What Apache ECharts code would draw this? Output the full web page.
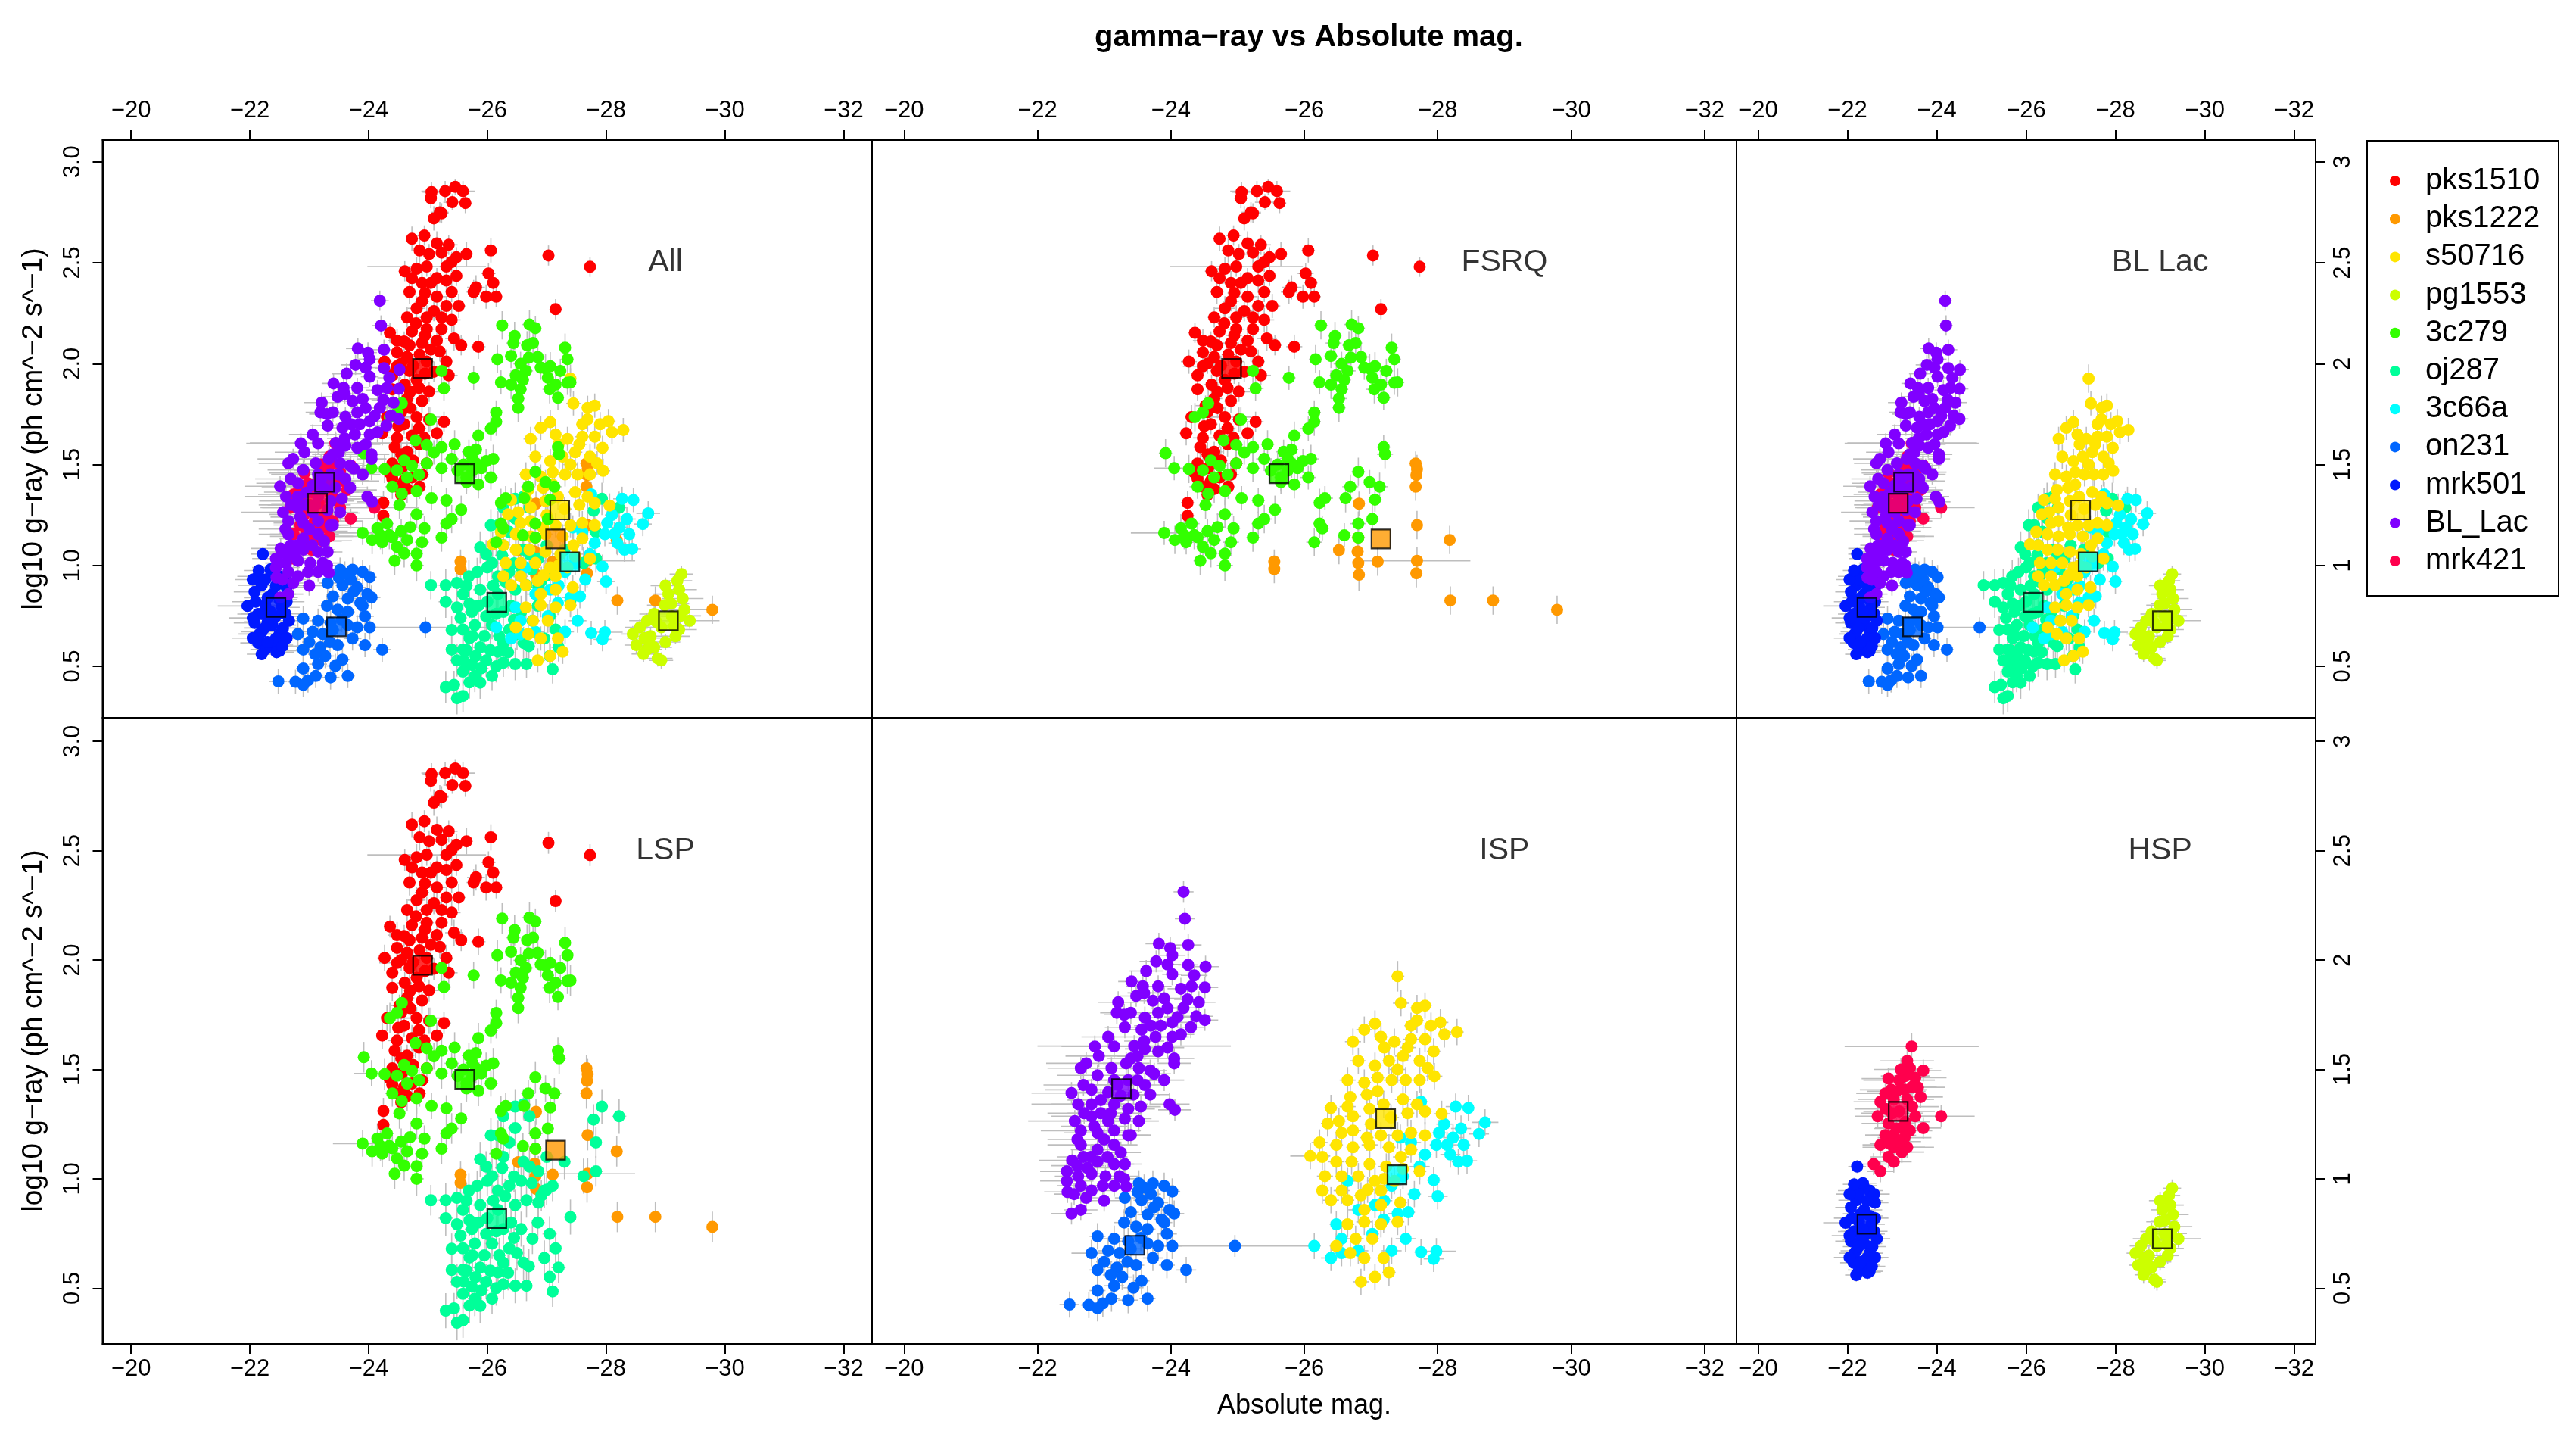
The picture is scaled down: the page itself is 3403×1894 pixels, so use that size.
<!DOCTYPE html>
<html><head><meta charset="utf-8">
<script src="https://cdn.jsdelivr.net/npm/echarts@6/dist/echarts.min.js"></script>
<style>html,body{margin:0;padding:0;background:#fff}#c{width:3403px;height:1894px}</style>
</head><body><div id="c"></div>
<script>
const FONT = "'Liberation Sans', Arial, Helvetica, sans-serif";
// legend order
const sources = ['pks1510','pks1222','s50716','pg1553','3c279','oj287','3c66a','on231','mrk501','BL_Lac','mrk421'];
const colors = {pks1510:'#FF0000',pks1222:'#FF9900',s50716:'#FFE500',pg1553:'#CCFF00','3c279':'#33FF00',oj287:'#00FF99','3c66a':'#00FFFF',on231:'#0066FF',mrk501:'#0019FF',BL_Lac:'#8000FF',mrk421:'#FF004D'};
// points: [absMag, log10 gamma, xErr, yErr]
const pks1510 = [
[-25.06,2.850,0.15,0.05],[-25.29,2.855,0.40,0.05],[-25.46,2.876,0.12,0.04],[-25.59,2.855,0.20,0.05],[-25.63,2.796,0.10,0.05],[-25.41,2.800,0.15,0.04],[-25.05,2.820,0.10,0.05],[-25.23,2.745,0.12,0.05],[-25.10,2.720,0.10,0.06],[-25.20,2.750,0.15,0.05],
[-24.73,2.619,0.10,0.06],[-24.94,2.635,0.12,0.05],[-25.15,2.596,0.10,0.06],[-25.35,2.589,0.15,0.05],[-25.65,2.543,0.10,0.06],[-25.48,2.527,0.12,0.05],[-24.86,2.561,0.10,0.06],[-25.02,2.543,0.15,0.05],[-25.23,2.550,0.10,0.06],[-25.40,2.504,0.12,0.05],[-26.06,2.561,0.10,0.06],
[-24.61,2.458,0.10,0.05],[-24.81,2.470,0.15,0.06],[-24.98,2.481,1.00,0.05],[-25.31,2.481,0.12,0.06],[-24.73,2.424,0.10,0.05],[-24.90,2.400,0.15,0.06],[-25.15,2.424,0.10,0.05],[-25.31,2.412,0.12,0.06],[-25.48,2.435,0.10,0.05],[-25.81,2.378,0.15,0.06],[-26.10,2.400,0.10,0.06],[-26.02,2.447,0.12,0.05],[-25.98,2.332,0.10,0.06],[-26.15,2.332,0.10,0.05],[-25.77,2.355,0.12,0.06],
[-24.69,2.355,0.10,0.06],[-24.90,2.309,0.12,0.05],[-25.15,2.332,0.15,0.06],[-25.40,2.355,0.10,0.05],[-25.52,2.286,0.12,0.06],[-25.31,2.286,0.10,0.05],[-24.81,2.274,0.15,0.06],[-24.65,2.229,0.10,0.05],[-24.98,2.229,0.12,0.06],[-25.23,2.229,0.10,0.05],[-25.40,2.217,0.15,0.06],
[-24.73,2.160,0.10,0.06],[-24.98,2.171,0.12,0.05],[-25.23,2.171,0.10,0.06],[-24.36,2.153,0.10,0.05],[-24.48,2.114,0.15,0.06],[-24.69,2.091,0.10,0.05],[-24.90,2.102,0.12,0.06],[-25.15,2.114,0.10,0.05],[-25.44,2.125,0.15,0.06],[-25.56,2.091,0.10,0.05],[-25.85,2.084,0.12,0.06],
[-24.48,2.056,0.10,0.05],[-24.65,2.033,0.15,0.06],[-24.86,2.045,0.10,0.05],[-24.27,2.010,0.12,0.06],[-24.48,1.987,0.30,0.05],[-24.69,1.964,0.10,0.06],[-24.98,2.010,0.12,0.05],[-25.31,2.010,0.10,0.06],[-25.35,1.942,0.15,0.05],
[-24.40,1.942,0.10,0.06],[-24.61,1.896,0.12,0.05],[-24.81,1.919,0.10,0.06],[-25.02,1.861,0.30,0.05],[-24.40,1.873,0.10,0.06],[-24.65,1.827,0.12,0.05],[-24.90,1.815,0.10,0.06],[-24.52,1.792,0.15,0.05],
[-24.31,1.735,0.10,0.06],[-24.81,1.735,0.40,0.05],[-25.02,1.723,0.10,0.06],[-25.27,1.712,0.12,0.05],[-24.23,1.655,0.10,0.06],[-24.48,1.632,0.15,0.05],[-24.73,1.643,0.10,0.06],[-24.94,1.632,0.12,0.05],[-25.15,1.655,0.10,0.06],
[-24.44,1.586,0.10,0.06],[-24.65,1.563,0.12,0.05],[-24.40,1.505,0.10,0.07],[-24.56,1.482,0.15,0.07],[-24.98,1.505,0.10,0.06],[-24.73,1.436,0.12,0.07],[-24.48,1.390,0.10,0.07],[-24.65,1.379,0.12,0.07],[-24.86,1.390,0.10,0.06],
[-24.25,1.310,0.10,0.06],[-24.25,1.246,0.10,0.06],[-27.03,2.536,0.05,0.05],[-27.73,2.480,0.05,0.05],[-27.15,2.270,0.05,0.05],
[-24.60,1.700,0.10,0.05],[-24.85,1.600,0.12,0.06],[-24.55,1.550,0.10,0.06],[-24.75,1.520,0.10,0.07],[-24.60,1.420,0.10,0.07],[-24.90,1.450,0.12,0.06],[-24.70,1.780,0.10,0.05],[-24.95,1.950,0.10,0.05],[-24.75,1.990,0.12,0.05],[-24.55,2.000,0.10,0.05],[-24.85,1.880,0.10,0.05],[-24.70,1.860,0.10,0.05],[-24.60,2.110,0.12,0.05],[-25.05,2.070,0.10,0.05],[-24.80,2.200,0.10,0.05],[-25.10,2.260,0.12,0.05],[-24.95,2.350,0.10,0.05],[-25.05,2.400,0.10,0.05],
[-24.55,1.760,0.10,0.05],[-24.85,1.680,0.12,0.05],[-24.50,1.690,0.10,0.06],[-24.40,1.430,0.10,0.07],[-24.55,1.350,0.10,0.07],[-24.35,1.460,0.12,0.07],[-25.10,1.960,0.10,0.05],[-25.20,2.060,0.10,0.05],[-24.95,2.140,0.12,0.05]
];
const pks1222 = [
[-27.67,1.505,0.05,0.06],[-27.69,1.478,0.05,0.07],[-27.68,1.448,0.05,0.06],[-27.67,1.390,0.05,0.07],[-27.69,1.200,0.05,0.07],[-28.18,1.126,0.05,0.07],[-26.82,1.306,0.05,0.06],[-26.81,1.138,0.05,0.07],[-26.80,1.069,0.05,0.08],[-26.81,1.012,0.05,0.07],[-26.82,0.954,0.05,0.08],[-26.52,1.076,0.05,0.07],[-27.10,1.019,0.05,0.07],[-27.69,1.023,0.80,0.07],[-27.68,0.961,0.05,0.07],[-25.55,1.019,0.05,0.06],[-25.55,0.982,0.05,0.07],[-28.19,0.826,0.05,0.07],[-28.83,0.826,0.05,0.07],[-29.79,0.780,0.05,0.07]
];
const c3c279 = [
[-26.25,2.190,0.10,0.07],[-26.71,2.194,0.12,0.07],[-26.81,2.176,0.10,0.06],[-26.46,2.137,0.10,0.07],[-26.44,2.102,0.12,0.06],[-26.67,2.091,0.10,0.07],[-26.77,2.102,0.10,0.06],[-26.85,2.033,0.12,0.07],[-26.40,2.038,0.10,0.06],[-26.17,2.022,0.10,0.07],[-26.56,1.999,0.12,0.06],[-27.31,2.079,0.10,0.07],[-27.35,2.022,0.10,0.06],[-27.06,1.987,0.12,0.07],[-27.23,1.964,0.10,0.06],[-26.98,1.976,0.10,0.07],[-26.65,1.964,0.12,0.06],[-26.48,1.942,0.10,0.07],[-26.23,1.907,0.10,0.06],[-26.40,1.896,0.12,0.07],[-26.60,1.919,0.10,0.06],[-27.02,1.930,0.10,0.07],[-27.35,1.905,0.12,0.06],[-27.40,1.907,0.10,0.07],[-27.15,1.896,0.10,0.06],[-27.05,1.873,0.12,0.07],[-27.19,1.831,0.10,0.06],[-26.56,1.873,0.10,0.07],[-26.52,1.827,0.12,0.06],[-26.52,1.781,0.10,0.07],[-25.77,1.930,0.10,0.06],
[-25.23,1.964,0.10,0.07],[-25.27,1.877,0.12,0.06],[-24.56,1.804,0.10,0.07],[-24.48,1.758,0.10,0.06],[-24.36,1.735,0.12,0.07],[-26.15,1.758,0.10,0.06],[-26.15,1.712,0.10,0.07],[-26.06,1.678,0.12,0.06],[-25.85,1.643,0.10,0.07],[-25.05,1.723,0.10,0.06],[-24.79,1.620,0.12,0.07],[-24.98,1.597,0.10,0.06],[-25.23,1.586,0.10,0.07],[-25.69,1.563,0.12,0.06],[-25.81,1.574,0.10,0.07],[-25.98,1.517,0.10,0.06],[-26.10,1.528,0.12,0.07],[-25.90,1.482,0.10,0.06],[-25.65,1.436,0.10,0.07],[-25.40,1.528,0.12,0.06],[-25.23,1.482,0.10,0.07],[-24.98,1.505,0.10,0.06],[-24.73,1.494,0.12,0.07],[-24.48,1.471,0.10,0.06],[-24.27,1.478,0.10,0.07],[-24.05,1.482,0.30,0.06],[-23.92,1.556,0.10,0.07],[-24.65,1.436,0.10,0.06],[-24.81,1.368,0.12,0.07],[-25.06,1.333,0.10,0.06],[-24.56,1.356,0.10,0.07],[-24.40,1.390,0.12,0.06],[-25.56,1.276,0.10,0.07],[-25.31,1.322,0.10,0.06],[-24.81,1.253,0.12,0.07],[-24.94,1.184,0.10,0.06],[-24.52,1.299,0.10,0.07],[-24.31,1.207,0.12,0.06],[-24.15,1.184,0.10,0.07],[-23.90,1.161,0.50,0.06],[-24.06,1.126,0.10,0.07],[-24.23,1.115,0.12,0.06],[-24.48,1.092,0.10,0.07],[-24.65,1.126,0.10,0.06],[-24.90,1.115,0.12,0.07],[-24.81,1.058,0.10,0.06],[-24.44,1.023,0.10,0.07],[-24.81,1.000,0.12,0.08],[-25.23,1.138,0.10,0.07],[-25.31,1.207,0.10,0.06],[-25.40,1.230,0.12,0.07],[-25.65,1.413,0.10,0.06],[-25.85,1.402,0.10,0.07],[-26.06,1.436,0.12,0.06],[-25.81,1.505,0.10,0.07],
[-26.23,1.310,0.10,0.07],[-26.31,1.333,0.12,0.06],[-26.23,1.207,0.10,0.07],[-26.27,1.184,0.10,0.06],[-26.15,1.115,0.12,0.07],[-26.60,1.149,0.10,0.06],[-26.62,1.333,0.10,0.07],[-26.69,1.390,0.12,0.06],[-26.81,1.464,0.10,0.07],[-26.98,1.413,0.10,0.06],[-27.13,1.390,0.12,0.07],[-27.06,1.326,0.10,0.06],[-27.02,1.230,0.10,0.07],[-26.81,1.207,0.12,0.06],[-26.81,1.138,0.10,0.07],[-27.19,1.586,0.10,0.06],[-27.21,1.551,0.12,0.07],
[-24.60,1.520,0.10,0.07],[-24.85,1.450,0.12,0.06],[-24.35,1.150,0.10,0.07],[-24.55,1.170,0.10,0.06],[-24.70,1.190,0.12,0.07],[-25.10,1.560,0.10,0.06],[-25.45,1.600,0.10,0.07],[-25.60,1.500,0.12,0.06],[-25.75,1.470,0.10,0.07],
[-24.20,1.150,0.10,0.07],[-24.40,1.140,0.12,0.06],[-24.60,1.060,0.10,0.07],[-25.50,1.470,0.10,0.06],[-25.75,1.530,0.12,0.07],[-26.90,1.980,0.10,0.06],[-26.70,2.030,0.10,0.07]
];
const oj287 = [
[-26.47,1.330,0.10,0.08],[-26.61,1.341,0.12,0.07],[-26.71,1.286,0.10,0.08],[-26.27,1.286,0.10,0.07],[-26.47,1.232,0.12,0.08],[-26.18,1.199,0.10,0.07],[-26.06,1.199,0.10,0.08],[-26.37,1.166,0.12,0.07],[-26.27,1.100,0.10,0.08],[-26.61,1.078,0.10,0.07],[-26.71,1.056,0.12,0.08],[-26.86,1.034,0.10,0.07],[-26.57,0.990,0.10,0.08],[-27.00,1.100,0.12,0.07],[-27.30,1.078,0.10,0.08],[-27.10,0.968,0.10,0.07],[-26.96,0.946,0.12,0.08],[-26.86,0.891,0.10,0.07],[-27.62,1.012,0.10,0.08],[-27.83,1.034,0.12,0.07],[-27.93,1.330,0.10,0.08],[-27.79,1.271,0.10,0.07],[-28.22,1.286,0.12,0.08],[-27.83,1.166,0.10,0.07],[-27.40,0.825,0.10,0.08],[-27.00,0.950,0.12,0.07],
[-25.88,1.089,0.10,0.08],[-25.98,1.056,0.10,0.07],[-26.08,1.012,0.12,0.08],[-25.83,0.968,0.10,0.07],[-26.18,0.946,0.10,0.08],[-26.37,0.968,0.12,0.07],[-25.69,0.946,0.10,0.08],[-25.49,0.913,0.10,0.07],[-25.30,0.902,0.12,0.08],[-25.05,0.902,0.10,0.07],[-25.59,0.858,0.10,0.08],[-25.88,0.880,0.12,0.07],[-26.18,0.858,0.10,0.08],[-26.47,0.880,0.10,0.07],[-26.66,0.902,0.12,0.08],[-26.91,0.924,0.10,0.07],[-25.49,0.792,0.10,0.08],[-25.74,0.770,0.12,0.07],[-25.98,0.748,0.10,0.08],[-26.27,0.770,0.10,0.07],[-26.57,0.770,0.12,0.08],[-26.76,0.726,0.10,0.07],[-26.37,0.682,0.10,0.08],[-26.08,0.704,0.12,0.07],[-25.79,0.704,0.10,0.08],[-25.59,0.682,0.10,0.07],[-27.05,0.748,0.12,0.08],[-27.15,0.682,0.10,0.07],[-26.96,0.638,0.10,0.08],[-27.20,0.594,0.12,0.07],[-27.05,0.551,0.10,0.08],[-27.10,0.485,0.10,0.07],[-26.61,0.616,0.12,0.08],[-26.27,0.616,0.10,0.07],[-26.18,0.572,0.10,0.08],[-25.88,0.594,0.12,0.07],[-25.59,0.583,0.10,0.08],[-25.40,0.583,0.10,0.07],[-25.49,0.529,0.12,0.08],[-25.74,0.507,0.10,0.07],[-25.98,0.529,0.10,0.08],[-26.27,0.518,0.12,0.07],[-26.47,0.511,0.10,0.08],[-26.66,0.511,0.10,0.07],[-25.79,0.452,0.12,0.08],[-26.08,0.452,0.10,0.07],[-25.88,0.419,0.10,0.08],[-25.59,0.474,0.12,0.07],[-25.30,0.397,0.10,0.08],[-25.44,0.408,0.10,0.07],[-25.59,0.353,0.12,0.08],[-25.49,0.342,0.10,0.08],
[-25.70,0.640,0.10,0.08],[-25.95,0.650,0.10,0.07],[-26.20,0.650,0.12,0.08],[-25.80,0.550,0.10,0.07],[-26.05,0.580,0.10,0.08],[-25.70,0.810,0.12,0.07],[-26.00,0.820,0.10,0.08],[-26.40,0.800,0.10,0.07],
[-25.65,0.900,0.10,0.08],[-26.10,0.900,0.12,0.07],[-26.30,0.920,0.10,0.08],[-25.55,0.740,0.10,0.07],[-25.85,0.800,0.12,0.08],[-26.15,0.760,0.10,0.07],[-26.45,0.730,0.10,0.08],[-25.65,0.580,0.12,0.07],[-26.35,0.570,0.10,0.08],[-25.75,0.650,0.10,0.07],[-26.50,0.660,0.12,0.08],[-25.60,0.530,0.10,0.07],[-26.15,0.500,0.10,0.08],[-25.90,0.490,0.12,0.07],[-25.70,0.420,0.10,0.08],[-26.00,0.990,0.10,0.07],[-26.25,1.050,0.12,0.08],[-26.45,1.010,0.10,0.07],[-26.75,0.980,0.10,0.08],[-26.85,0.800,0.12,0.07],[-26.70,0.600,0.10,0.08],[-25.40,0.680,0.10,0.07],[-25.30,0.820,0.12,0.08]
];
const c3c66a = [
[-27.75,1.352,0.10,0.06],[-28.27,1.330,0.15,0.06],[-28.46,1.324,0.10,0.06],[-28.71,1.258,0.20,0.06],[-28.62,1.205,0.15,0.06],[-28.02,1.210,0.10,0.06],[-28.23,1.188,0.15,0.06],[-28.39,1.155,0.10,0.06],[-28.14,1.155,0.15,0.06],[-27.98,1.155,0.10,0.06],[-28.44,1.082,0.15,0.06],[-28.31,1.078,0.10,0.06],[-28.19,1.111,0.15,0.06],[-27.81,1.111,0.10,0.06],[-27.60,1.166,0.15,0.06],[-27.44,1.188,0.10,0.06],[-27.73,1.056,0.15,0.06],[-27.94,0.994,0.10,0.06],[-28.00,0.920,0.15,0.06],[-27.48,1.012,0.10,0.06],[-27.31,0.968,0.15,0.06],[-27.06,0.880,0.10,0.06],[-26.81,0.858,0.15,0.06],[-26.48,0.792,0.10,0.06],[-26.65,0.990,0.15,0.06],[-27.56,0.847,0.10,0.06],[-27.40,0.841,0.15,0.06],[-27.19,0.814,0.10,0.06],[-27.52,0.726,0.15,0.06],[-27.02,0.748,0.10,0.06],[-26.81,0.671,0.15,0.06],[-26.56,0.660,0.20,0.06],[-26.40,0.638,0.15,0.06],[-26.15,0.693,0.10,0.06],[-27.31,0.671,0.15,0.06],[-27.75,0.665,0.10,0.06],[-27.98,0.669,0.30,0.06],[-27.94,0.634,0.15,0.06],[-26.56,0.726,0.10,0.06],
[-28.10,1.250,0.12,0.06],[-28.35,1.230,0.15,0.06],[-27.65,0.930,0.10,0.06],[-27.20,0.900,0.12,0.06]
];
const s50716 = [
[-27.40,1.926,0.10,0.07],[-27.45,1.803,0.12,0.06],[-27.69,1.781,0.10,0.06],[-27.81,1.792,0.10,0.06],[-26.90,1.682,0.12,0.06],[-27.06,1.710,0.10,0.06],[-27.69,1.724,0.10,0.06],[-28.04,1.715,0.12,0.06],[-28.29,1.671,0.10,0.06],[-28.10,1.660,0.10,0.06],[-26.73,1.627,0.12,0.06],[-27.15,1.649,0.10,0.06],[-27.35,1.627,0.10,0.06],[-27.60,1.638,0.12,0.06],[-27.81,1.638,0.10,0.06],[-27.94,1.583,0.10,0.06],[-26.81,1.539,0.12,0.06],[-27.06,1.517,0.10,0.06],[-27.27,1.539,0.10,0.06],[-27.48,1.561,0.12,0.06],[-27.73,1.539,0.10,0.06],[-27.85,1.506,0.10,0.06],[-26.65,1.451,0.12,0.06],[-26.90,1.440,0.10,0.06],[-27.10,1.462,0.10,0.06],[-27.31,1.451,0.12,0.06],[-27.52,1.451,0.10,0.06],[-27.73,1.451,0.10,0.06],[-27.95,1.469,0.12,0.06],[-26.69,1.374,0.10,0.06],[-26.94,1.385,0.10,0.06],[-26.65,1.330,0.12,0.06],[-26.40,1.324,0.10,0.06],[-26.52,1.264,0.10,0.06],[-26.73,1.286,0.12,0.06],[-26.98,1.319,0.10,0.06],[-27.19,1.341,0.10,0.06],[-27.48,1.363,0.12,0.06],[-27.69,1.341,0.10,0.06],[-27.81,1.308,0.10,0.06],[-28.06,1.297,0.12,0.06],[-26.35,1.253,0.10,0.06],[-26.56,1.210,0.10,0.06],[-26.73,1.220,0.12,0.06],[-26.94,1.188,0.10,0.06],[-27.15,1.199,0.10,0.06],[-27.40,1.199,0.12,0.06],[-27.60,1.210,0.10,0.06],[-27.81,1.199,0.10,0.06],[-26.23,1.166,0.12,0.06],[-26.48,1.155,0.10,0.06],[-26.73,1.144,0.10,0.06],[-26.98,1.155,0.12,0.06],[-27.27,1.144,0.10,0.06],[-27.60,1.133,0.10,0.06],[-26.09,1.104,0.30,0.06],[-26.27,1.100,0.10,0.06],[-26.48,1.078,0.12,0.06],[-26.71,1.078,0.10,0.06],[-26.98,1.067,0.10,0.06],[-27.23,1.056,0.12,0.06],[-27.48,1.045,0.10,0.06],[-27.73,1.034,0.10,0.06],[-26.31,1.012,0.12,0.06],[-26.56,1.012,0.10,0.06],[-26.81,1.012,0.10,0.06],[-27.06,0.990,0.12,0.06],[-27.35,0.990,0.10,0.06],[-26.27,0.946,0.10,0.06],[-26.56,0.946,0.12,0.06],[-26.85,0.924,0.10,0.06],[-27.15,0.946,0.10,0.06],[-26.40,0.902,0.12,0.06],[-26.65,0.902,0.10,0.06],[-26.90,0.858,0.10,0.06],[-27.15,0.880,0.12,0.06],[-27.44,0.891,0.10,0.06],[-26.65,0.792,0.10,0.06],[-26.90,0.803,0.12,0.06],[-27.15,0.792,0.10,0.06],[-27.40,0.803,0.10,0.06],[-26.77,0.726,0.12,0.06],[-27.02,0.726,0.10,0.06],[-26.48,0.693,0.10,0.06],[-26.69,0.660,0.12,0.06],[-26.90,0.638,0.10,0.06],[-27.19,0.638,0.10,0.06],[-26.85,0.529,0.12,0.06],[-27.06,0.551,0.10,0.06],[-27.27,0.572,0.10,0.06],
[-27.00,1.250,0.10,0.06],[-27.30,1.280,0.12,0.06],[-27.55,1.300,0.10,0.06],[-27.10,1.400,0.10,0.06],[-27.45,1.100,0.12,0.06],[-27.20,1.000,0.10,0.06],[-26.95,0.950,0.10,0.06],[-27.40,1.500,0.12,0.06],[-27.60,1.700,0.10,0.06],[-27.20,1.600,0.10,0.06],[-27.55,1.600,0.12,0.06],[-27.90,1.700,0.10,0.06]
];
const pg1553 = [
[-29.27,0.957,0.20,0.04],[-29.20,0.924,0.25,0.04],[-29.23,0.880,0.30,0.04],[-29.05,0.858,0.25,0.04],[-29.29,0.836,0.35,0.04],[-28.99,0.803,0.30,0.04],[-29.32,0.781,0.40,0.04],[-28.81,0.759,0.25,0.04],[-29.11,0.748,0.35,0.04],[-29.41,0.726,0.50,0.04],[-28.69,0.726,0.30,0.04],[-28.57,0.693,0.25,0.04],[-28.93,0.693,0.35,0.04],[-29.23,0.682,0.30,0.04],[-28.45,0.660,0.20,0.04],[-28.75,0.649,0.30,0.04],[-29.17,0.649,0.25,0.04],[-28.51,0.605,0.20,0.04],[-28.81,0.594,0.30,0.04],[-28.63,0.561,0.20,0.04],[-28.87,0.539,0.25,0.04],[-28.93,0.529,0.20,0.04],[-28.69,0.583,0.25,0.04],[-29.10,0.810,0.30,0.04],[-29.00,0.900,0.25,0.04],
[-29.15,0.700,0.30,0.04],[-28.85,0.720,0.25,0.04],[-28.65,0.640,0.30,0.04],[-29.00,0.620,0.25,0.04],[-29.25,0.750,0.35,0.04],[-28.75,0.600,0.20,0.04]
];
const on231 = [
[-23.52,0.979,0.15,0.06],[-23.73,0.979,0.12,0.06],[-23.90,0.968,0.15,0.06],[-24.02,0.942,0.12,0.06],[-23.31,0.913,0.15,0.06],[-23.56,0.902,0.12,0.06],[-23.81,0.891,0.15,0.06],[-23.98,0.858,0.12,0.06],[-24.05,0.841,0.15,0.06],[-23.40,0.847,0.12,0.06],[-23.65,0.836,0.15,0.06],[-23.86,0.814,0.12,0.06],[-23.48,0.781,0.15,0.06],[-23.65,0.770,0.12,0.06],[-23.94,0.748,0.15,0.06],[-22.90,0.737,0.12,0.06],[-23.15,0.726,0.15,0.06],[-23.36,0.715,0.20,0.06],[-23.65,0.704,0.15,0.06],[-23.81,0.693,0.12,0.06],[-24.02,0.693,0.15,0.06],[-22.81,0.660,0.30,0.06],[-23.06,0.671,0.15,0.06],[-23.23,0.660,0.12,0.06],[-23.73,0.638,0.15,0.06],[-23.94,0.605,0.12,0.06],[-24.23,0.583,0.15,0.06],[-22.90,0.583,0.12,0.06],[-23.19,0.594,0.15,0.06],[-23.48,0.605,0.12,0.06],[-23.27,0.551,0.15,0.06],[-23.56,0.533,0.12,0.06],[-23.44,0.502,0.15,0.06],[-22.90,0.489,0.12,0.06],[-23.15,0.511,0.15,0.06],[-22.77,0.423,0.12,0.06],[-22.98,0.430,0.15,0.06],[-23.11,0.452,0.12,0.06],[-22.48,0.425,0.15,0.06],[-22.90,0.408,0.12,0.06],[-23.36,0.445,0.15,0.06],[-23.65,0.452,0.12,0.06],[-24.96,0.693,1.20,0.05],
[-23.50,0.940,0.12,0.06],[-23.70,0.930,0.15,0.06],[-23.90,0.800,0.12,0.06],[-23.40,0.680,0.15,0.06],[-23.55,0.730,0.12,0.06],[-23.75,0.870,0.15,0.06],
[-23.60,0.960,0.12,0.06],[-23.30,0.800,0.15,0.06],[-23.10,0.560,0.12,0.06],[-23.35,0.620,0.15,0.06],[-23.00,0.620,0.12,0.06]
];
const mrk501 = [
[-22.22,1.056,0.20,0.03],[-22.36,0.968,0.30,0.03],[-22.14,0.946,0.35,0.03],[-22.50,0.946,0.30,0.03],[-22.20,0.902,0.40,0.03],[-22.62,0.891,0.30,0.03],[-22.08,0.869,0.35,0.03],[-22.38,0.858,0.40,0.03],[-21.96,0.799,0.50,0.03],[-22.26,0.803,0.40,0.03],[-22.54,0.792,0.30,0.03],[-22.14,0.759,0.35,0.03],[-22.44,0.748,0.40,0.03],[-22.66,0.726,0.30,0.03],[-22.08,0.715,0.35,0.03],[-22.38,0.704,0.40,0.03],[-22.20,0.671,0.35,0.03],[-22.50,0.660,0.30,0.03],[-22.14,0.616,0.30,0.03],[-22.38,0.605,0.35,0.03],[-22.26,0.583,0.25,0.03],[-22.50,0.577,0.30,0.03],[-22.44,0.638,0.35,0.03],
[-22.26,0.930,0.30,0.03],[-22.44,0.900,0.35,0.03],[-22.30,0.840,0.40,0.03],[-22.50,0.830,0.30,0.03],[-22.20,0.760,0.35,0.03],[-22.56,0.690,0.30,0.03],[-22.30,0.720,0.40,0.03],[-22.16,0.660,0.35,0.03],[-22.40,0.620,0.30,0.03],
[-22.05,0.930,0.30,0.03],[-22.60,0.930,0.35,0.03],[-22.10,0.820,0.40,0.03],[-22.62,0.820,0.30,0.03],[-22.35,0.770,0.35,0.03],[-22.05,0.740,0.40,0.03],[-22.60,0.760,0.30,0.03],[-22.25,0.690,0.35,0.03],[-22.62,0.640,0.30,0.03],[-22.05,0.640,0.35,0.03],[-22.30,0.620,0.30,0.03],[-22.20,0.560,0.25,0.03],[-22.45,0.570,0.30,0.03],[-22.55,0.600,0.30,0.03],[-22.35,0.980,0.30,0.03],[-22.15,0.975,0.25,0.03]
];
const BL_Lac = [
[-24.19,2.312,0.15,0.05],[-24.21,2.189,0.15,0.05],[-24.26,2.069,0.20,0.05],[-23.82,2.075,0.20,0.05],[-23.99,2.055,0.15,0.05],[-24.02,2.022,0.20,0.05],[-23.78,1.994,0.25,0.05],[-24.26,1.978,0.15,0.05],[-24.52,1.970,0.20,0.05],[-23.63,1.950,0.25,0.05],[-23.41,1.902,0.20,0.05],[-23.58,1.880,0.25,0.05],[-23.81,1.880,0.20,0.05],[-24.02,1.935,0.15,0.05],[-24.15,1.869,0.20,0.05],[-24.31,1.880,0.25,0.05],[-24.51,1.875,0.20,0.05],[-23.48,1.836,0.25,0.05],[-23.73,1.814,0.20,0.05],[-23.90,1.825,0.25,0.05],[-24.19,1.781,0.20,0.05],[-24.42,1.807,0.25,0.05],[-23.21,1.807,0.30,0.05],[-23.19,1.759,0.25,0.05],[-23.40,1.759,0.30,0.05],[-23.61,1.737,0.25,0.05],[-23.81,1.759,0.20,0.05],[-24.02,1.715,0.25,0.05],[-24.30,1.693,0.20,0.05],[-24.38,1.743,0.25,0.05],[-24.51,1.726,0.20,0.05],[-23.31,1.693,0.30,0.05],[-23.56,1.682,0.25,0.05],[-23.77,1.649,0.30,0.05],[-24.02,1.649,0.25,0.05],[-24.15,1.660,0.20,0.05],[-23.06,1.649,0.40,0.05],[-22.86,1.605,0.50,0.05],[-23.15,1.605,0.40,0.05],[-23.45,1.607,1.45,0.05],[-23.61,1.594,0.30,0.05],[-23.81,1.583,0.25,0.05],[-24.05,1.550,0.30,0.05],[-24.05,1.528,0.25,0.05],[-22.92,1.561,0.50,0.05],[-22.73,1.528,0.60,0.05],[-22.65,1.506,0.50,0.05],[-23.11,1.506,0.40,0.05],[-23.33,1.528,0.35,0.05],[-23.52,1.506,0.30,0.05],[-23.69,1.495,0.25,0.05],[-23.90,1.451,0.30,0.05],[-22.90,1.473,0.60,0.05],[-22.69,1.429,0.60,0.05],[-23.15,1.451,0.40,0.05],[-23.36,1.451,0.35,0.05],[-23.61,1.429,0.30,0.05],[-22.51,1.392,0.60,0.05],[-22.81,1.407,0.70,0.05],[-23.06,1.396,0.50,0.05],[-23.44,1.385,0.40,0.05],[-23.69,1.385,0.30,0.05],[-22.61,1.341,0.70,0.05],[-22.81,1.341,0.60,0.05],[-23.15,1.341,0.50,0.05],[-23.36,1.319,0.40,0.05],[-23.98,1.341,0.30,0.05],[-24.06,1.315,0.25,0.05],[-22.56,1.264,0.70,0.05],[-22.81,1.286,0.60,0.05],[-23.06,1.264,0.50,0.05],[-23.31,1.275,0.40,0.05],[-23.52,1.264,0.30,0.05],[-22.65,1.220,0.60,0.05],[-22.90,1.210,0.50,0.05],[-23.15,1.220,0.40,0.05],[-23.36,1.199,0.30,0.05],[-22.65,1.155,0.50,0.05],[-22.90,1.133,0.40,0.05],[-23.15,1.155,0.35,0.05],[-22.52,1.084,0.50,0.05],[-22.69,1.100,0.40,0.05],[-22.90,1.078,0.35,0.05],[-23.15,1.067,0.30,0.05],[-23.31,1.067,0.25,0.05],[-22.44,1.034,0.40,0.05],[-22.61,1.012,0.35,0.05],[-22.81,1.023,0.30,0.05],[-23.02,1.012,0.25,0.05],[-23.23,1.012,0.30,0.05],[-22.44,0.990,0.40,0.05],[-22.65,0.968,0.35,0.05],[-22.81,0.946,0.30,0.05],[-22.98,0.968,0.25,0.05],[-23.15,0.968,0.30,0.05],[-23.33,0.964,0.25,0.05],[-22.73,0.913,0.30,0.05],[-22.65,0.858,0.25,0.05],[-22.51,0.841,0.30,0.05],
[-23.00,1.180,0.40,0.05],[-22.80,1.100,0.35,0.05],[-23.25,1.120,0.30,0.05],[-22.95,1.300,0.50,0.05],[-23.25,1.380,0.40,0.05],[-23.50,1.560,0.30,0.05],[-23.70,1.700,0.25,0.05],[-23.95,1.600,0.25,0.05],
[-22.55,0.930,0.30,0.05],[-22.75,1.050,0.35,0.05],[-23.05,1.100,0.30,0.05],[-22.60,1.180,0.45,0.05],[-22.85,1.240,0.50,0.05],[-23.10,1.300,0.45,0.05],[-22.70,1.300,0.55,0.05],[-22.95,1.360,0.50,0.05],[-23.20,1.430,0.40,0.05],[-23.50,1.450,0.30,0.05],[-23.40,1.550,0.35,0.05],[-23.60,1.630,0.30,0.05],[-23.85,1.700,0.25,0.05],[-24.10,1.740,0.20,0.05],[-23.95,1.780,0.25,0.05],[-24.25,1.820,0.20,0.05],[-22.60,1.060,0.40,0.05],[-22.45,0.940,0.35,0.05],[-23.00,0.900,0.30,0.05],[-23.30,1.000,0.25,0.05],[-23.40,1.200,0.30,0.05],[-23.55,1.330,0.30,0.05],[-23.75,1.480,0.25,0.05],[-23.30,1.750,0.30,0.05],[-23.60,1.850,0.25,0.05],[-23.95,1.980,0.20,0.05],[-24.35,1.930,0.20,0.05]
];
const mrk421 = [
[-23.44,1.605,1.50,0.06],[-23.34,1.539,0.60,0.05],[-23.40,1.506,0.50,0.05],[-23.70,1.495,0.40,0.05],[-23.52,1.462,0.70,0.05],[-22.92,1.458,0.60,0.05],[-23.16,1.451,0.80,0.05],[-22.98,1.407,0.70,0.05],[-23.28,1.407,0.50,0.05],[-23.58,1.418,0.60,0.05],[-23.04,1.363,0.80,0.05],[-23.34,1.363,0.60,0.05],[-23.64,1.374,0.50,0.05],[-22.74,1.352,0.60,0.05],[-22.86,1.319,0.70,0.05],[-23.16,1.308,0.80,0.05],[-23.52,1.286,0.50,0.05],[-22.68,1.286,0.50,0.05],[-24.10,1.286,0.75,0.05],[-23.70,1.232,0.40,0.05],[-22.92,1.253,0.60,0.05],[-23.22,1.232,0.60,0.05],[-23.04,1.199,0.50,0.05],[-23.28,1.188,0.60,0.05],[-22.74,1.155,0.40,0.05],[-23.04,1.144,0.70,0.05],[-23.34,1.144,0.60,0.05],[-22.92,1.100,0.40,0.05],[-23.22,1.122,0.50,0.05],[-22.59,1.067,0.30,0.05],[-22.74,1.034,0.30,0.05],[-23.04,1.078,0.40,0.05],
[-23.30,1.470,0.55,0.05],[-23.10,1.400,0.65,0.05],[-23.45,1.330,0.60,0.05],[-23.00,1.300,0.70,0.05],[-23.30,1.260,0.55,0.05],[-23.10,1.230,0.50,0.05],[-22.85,1.200,0.45,0.05],[-23.15,1.170,0.50,0.05],
[-23.20,1.500,0.60,0.05],[-23.45,1.420,0.55,0.05],[-22.85,1.390,0.65,0.05],[-23.40,1.220,0.50,0.05],[-22.95,1.160,0.45,0.05]
];
// mean values (squares)
const means = {pks1510:[-24.91,1.976],pks1222:[-27.15,1.131],'3c279':[-25.62,1.455],oj287:[-26.16,0.818],BL_Lac:[-23.26,1.412],on231:[-23.46,0.696],s50716:[-27.22,1.275],'3c66a':[-27.39,1.018],mrk421:[-23.14,1.308],mrk501:[-22.44,0.792],pg1553:[-29.05,0.726]};
const pointsBySource = {pks1510, pks1222, '3c279':c3c279, oj287, '3c66a':c3c66a, s50716, pg1553, on231, mrk501, BL_Lac, mrk421};
const panelNames = ['All','FSRQ','BL Lac','LSP','ISP','HSP'];
const panelLabelPos = [-29, 2.5];
// drawing order inside each panel
const panelMembers = [
 ['pks1510','pks1222','oj287','3c66a','s50716','3c279','pg1553','on231','mrk501','mrk421','BL_Lac'],
 ['pks1510','pks1222','3c279'],
 ['oj287','3c66a','s50716','pg1553','on231','mrk501','mrk421','BL_Lac'],
 ['pks1510','pks1222','oj287','3c279'],
 ['3c66a','s50716','on231','BL_Lac'],
 ['pg1553','mrk501','mrk421']
];
const xTicks = [-20,-22,-24,-26,-28,-30,-32];
const yTicks = [0.5,1,1.5,2,2.5,3];

const colLeft = [135.5, 1152, 2294], colWidth = [1016.5, 1142, 765];
const rowTop = [185, 948], rowHeight = [763, 827];

const grids = [], xAxes = [], yAxes = [], series = [];
const fmtX = v => (v < 0 ? '\u2212' : '') + Math.abs(v);
for (let i = 0; i < 6; i++) {
  const row = Math.floor(i / 3), col = i % 3;
  grids.push({left: colLeft[col], top: rowTop[row], width: colWidth[col], height: rowHeight[row], show: true, borderColor: '#000', borderWidth: 2, backgroundColor: 'transparent', containLabel: false});
  xAxes.push({gridIndex: i, type: 'value', min: -32.48, max: -19.52, inverse: true, position: row === 0 ? 'top' : 'bottom',
    axisLine: {show: true, onZero: false, lineStyle: {color: '#000', width: 2}},
    axisTick: {show: true, customValues: xTicks, length: 13, lineStyle: {color: '#000', width: 2}},
    axisLabel: {show: true, customValues: xTicks, formatter: fmtX, fontSize: 31, color: '#000', fontFamily: FONT, margin: row === 0 ? 23 : 18},
    splitLine: {show: false},
    name: i === 4 ? 'Absolute mag.' : '', nameLocation: 'middle', nameGap: 64,
    nameTextStyle: {fontSize: 36, color: '#000', fontFamily: FONT}
  });
  const yShow = col !== 1;
  yAxes.push({gridIndex: i, type: 'value', min: 0.245, max: 3.108, position: col === 2 ? 'right' : 'left',
    axisLine: {show: yShow, onZero: false, lineStyle: {color: '#000', width: 2}},
    axisTick: {show: yShow, customValues: yTicks, length: 13, lineStyle: {color: '#000', width: 2}},
    axisLabel: {show: yShow, customValues: yTicks, rotate: 90, fontSize: 31, color: '#000', fontFamily: FONT,
      margin: col === 0 ? 24 : 21, formatter: col === 0 ? (v => v.toFixed(1)) : (v => String(v))},
    splitLine: {show: false},
    name: col === 0 ? 'log10 g\u2212ray (ph cm^\u22122 s^\u22121)' : '', nameLocation: 'middle', nameGap: 72, nameRotate: 90,
    nameTextStyle: {fontSize: 37, color: '#000', fontFamily: FONT}
  });
  const members = panelMembers[i];
  const errData = [];
  members.forEach(s => pointsBySource[s].forEach(p => errData.push(p)));
  series.push({type: 'custom', name: 'errors', xAxisIndex: i, yAxisIndex: i, clip: true, z: 1, silent: true,
    data: errData,
    renderItem: (params, api) => {
      const x = api.value(0), y = api.value(1), ex = api.value(2), ey = api.value(3);
      const a = api.coord([x - ex, y]), b = api.coord([x + ex, y]);
      const c = api.coord([x, y - ey]), d = api.coord([x, y + ey]);
      const st = {stroke: '#BEBEBE', lineWidth: 1.6};
      return {type: 'group', children: [
        {type: 'line', shape: {x1: a[0], y1: a[1], x2: b[0], y2: b[1]}, style: st},
        {type: 'line', shape: {x1: c[0], y1: c[1], x2: d[0], y2: d[1]}, style: st}
      ]};
    }
  });
  members.forEach(s => {
    series.push({type: 'scatter', name: s, xAxisIndex: i, yAxisIndex: i, z: 3, symbol: 'circle', symbolSize: 16,
      itemStyle: {color: colors[s], opacity: 1}, data: pointsBySource[s].map(p => [p[0], p[1]]), silent: true});
  });
  series.push({type: 'scatter', name: 'means', xAxisIndex: i, yAxisIndex: i, z: 5, symbol: 'rect', symbolSize: 25, silent: true,
    itemStyle: {borderColor: '#000', borderWidth: 2.2},
    data: members.map(s => ({value: means[s], itemStyle: {color: colors[s]}}))});
  series.push({type: 'scatter', name: 'panel', xAxisIndex: i, yAxisIndex: i, z: 6, symbolSize: 1, silent: true,
    itemStyle: {color: 'rgba(0,0,0,0)'},
    label: {show: true, position: 'inside', formatter: panelNames[i], fontSize: 41, color: '#000', fontFamily: FONT},
    data: [panelLabelPos]});
}

const option = {
  animation: false,
  backgroundColor: '#ffffff',
  textStyle: {fontFamily: FONT},
  title: {text: 'gamma\u2212ray vs Absolute mag.', left: 1724, top: 25, textAlign: 'center',
    textStyle: {fontSize: 40, fontWeight: 'bold', color: '#000', fontFamily: FONT}},
  legend: {data: sources, orient: 'vertical', left: 3157, top: 219, padding: 0, itemWidth: 14, itemHeight: 14, itemGap: 10.2,
    icon: 'circle', selectedMode: false,
    textStyle: {fontSize: 40, lineHeight: 40, color: '#000', fontFamily: FONT, padding: [0, 0, 0, 28]}},
  graphic: [{type: 'rect', shape: {x: 3127, y: 186, width: 253, height: 601}, style: {fill: 'none', stroke: '#000', lineWidth: 2}, z: 10}],
  grid: grids, xAxis: xAxes, yAxis: yAxes, series: series
};
const chart = echarts.init(document.getElementById('c'), null, {renderer: 'canvas'});
chart.setOption(option);
</script></body></html>
